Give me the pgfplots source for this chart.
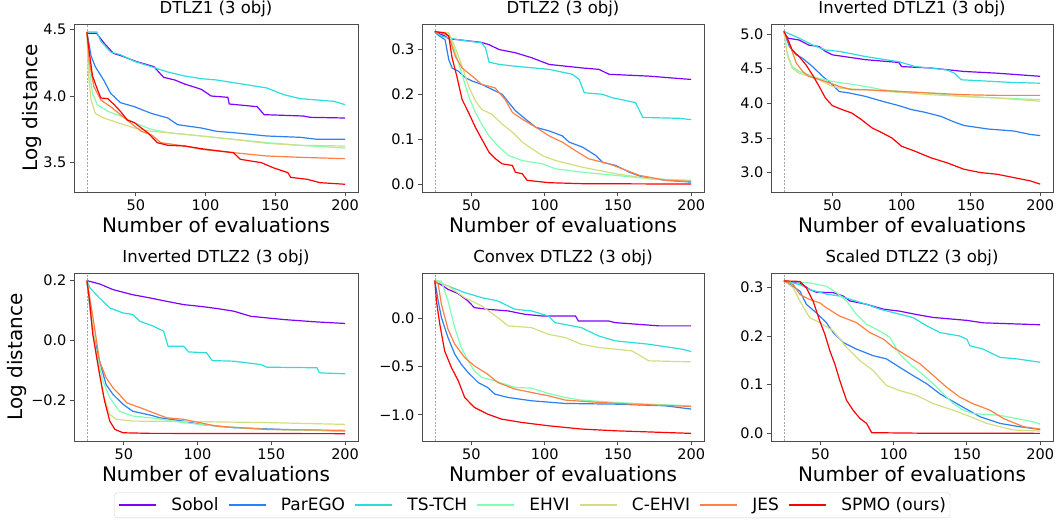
\documentclass[border=0pt]{standalone}
\usepackage{fontspec}
\setmainfont{DejaVu Sans}
\usepackage{pgfplots}
\pgfplotsset{compat=1.18}

% matplotlib "rainbow" colormap, 7 samples
\definecolor{cSobol}{rgb}{0.5,0,1}
\definecolor{cParEGO}{rgb}{0.1667,0.5,0.966}
\definecolor{cTSTCH}{rgb}{0.1667,0.866,0.866}
\definecolor{cEHVI}{rgb}{0.5,1,0.707}
\definecolor{cCEHVI}{rgb}{0.833,0.866,0.5}
\definecolor{cJES}{rgb}{1,0.5,0.2588}
\definecolor{cSPMO}{rgb}{1,0,0}

\tikzset{initline/.style={black!35, dash pattern=on 2pt off 1.5pt, line width=0.6pt}}

\pgfplotsset{
  panel/.style={
    scale only axis, width=282pt, height=168pt, anchor=south west,
    axis line style={black!70, line width=0.9pt},
    tick style={black!70, line width=0.9pt},
    tick align=outside, major tick length=4pt,
    xtick pos=bottom, ytick pos=left,
    xtick={50,100,150,200},
    tick label style={font=\fontsize{14.5}{16}\selectfont},
    /pgf/number format/assume math mode=true,
    title style={font=\fontsize{16.5}{19}\selectfont, at={(axis description cs:0.5,1.027)}, anchor=base},
    xlabel={Number of evaluations},
    xlabel style={font=\fontsize{20}{23}\selectfont, at={(axis description cs:0.5,-0.244)}, anchor=base},
    ylabel style={font=\fontsize{20}{23}\selectfont, at={(axis description cs:-0.148,0.5)}, anchor=center},
    every axis plot/.append style={line width=1.2pt},
  },
}

\begin{document}
\begin{tikzpicture}

% ---------------- DTLZ1 ----------------
\begin{axis}[panel, at={(74pt,331pt)}, width=284pt,
  title={DTLZ1 (3 obj)}, ylabel={Log distance},
  xmin=5.75, xmax=209.25, ymin=3.28, ymax=4.54,
  ytick={3.5,4.0,4.5}, yticklabels={3.5,4.0,4.5}]
\draw[initline] (axis cs:15,3.28) -- (axis cs:15,4.54);
\addplot[cSobol] coordinates {(15,4.47)(22,4.47)(27,4.40)(34,4.32)(40,4.30)(50,4.26)(63,4.22)(70,4.14)(78,4.12)(85,4.09)(97,4.05)(104,4.00)(116,3.99)(117,3.94)(137,3.92)(142,3.86)(170,3.85)(175,3.84)(200,3.835)};
\addplot[cParEGO] coordinates {(15,4.48)(18,4.30)(21,4.22)(27,4.12)(32,4.02)(39,3.95)(49,3.92)(61,3.87)(73,3.835)(80,3.785)(97,3.76)(108,3.735)(120,3.725)(144,3.70)(168,3.69)(180,3.675)(200,3.675)};
\addplot[cTSTCH] coordinates {(15,4.48)(22,4.48)(25,4.41)(32,4.33)(39,4.31)(49,4.26)(61,4.22)(73,4.18)(85,4.15)(97,4.13)(108,4.12)(120,4.10)(144,4.06)(156,4.01)(168,3.98)(192,3.96)(200,3.935)};
\addplot[cEHVI] coordinates {(15,4.48)(16.5,4.22)(19,4.02)(22.5,3.935)(30,3.885)(39,3.85)(49,3.80)(61,3.75)(73,3.725)(97,3.70)(120,3.675)(144,3.65)(168,3.63)(200,3.61)};
\addplot[cCEHVI] coordinates {(15,4.48)(16,4.17)(18,3.97)(21,3.87)(27,3.835)(37,3.80)(49,3.76)(61,3.735)(73,3.725)(97,3.70)(120,3.675)(144,3.645)(168,3.63)(200,3.625)};
\addplot[cJES] coordinates {(15,4.48)(16.5,4.27)(20,4.07)(25,3.97)(32,3.92)(39,3.86)(49,3.775)(54,3.735)(61,3.71)(68,3.65)(85,3.625)(97,3.60)(120,3.575)(144,3.55)(168,3.54)(200,3.53)};
\addplot[cSPMO] coordinates {(15,4.48)(16.5,4.345)(19,4.15)(22.5,4.05)(25,3.985)(30,3.98)(34.5,3.935)(39,3.885)(44,3.82)(49,3.80)(54,3.76)(58.5,3.725)(65.5,3.65)(73,3.63)(85,3.625)(97,3.605)(108,3.59)(120,3.575)(125,3.525)(140,3.50)(149,3.46)(159,3.425)(161,3.39)(173,3.375)(182,3.35)(200,3.338)};
\end{axis}

% ---------------- DTLZ2 ----------------
\begin{axis}[panel, at={(422pt,331pt)},
  title={DTLZ2 (3 obj)},
  xmin=16.25, xmax=208.75, ymin=-0.017, ymax=0.357,
  ytick={0,0.1,0.2,0.3}, yticklabels={0.0,0.1,0.2,0.3}]
\draw[initline] (axis cs:25,-0.017) -- (axis cs:25,0.357);
\addplot[cSobol] coordinates {(25,0.34)(32,0.33)(34.5,0.324)(41,0.322)(57,0.316)(62,0.311)(69,0.30)(80,0.293)(91.5,0.2815)(103,0.267)(126,0.259)(137,0.256)(144,0.245)(171,0.241)(194,0.235)(200,0.2336)};
\addplot[cParEGO] coordinates {(25,0.34)(27,0.333)(32,0.322)(34.5,0.278)(36.8,0.259)(41,0.252)(46,0.237)(50.5,0.230)(57,0.2225)(64,0.2115)(71,0.2005)(75.5,0.182)(80,0.164)(87,0.145)(94,0.127)(103,0.119)(112,0.108)(116.7,0.094)(126,0.0826)(135,0.064)(139.5,0.049)(148.6,0.042)(157.8,0.027)(167,0.016)(183,0.009)(200,0.005)};
\addplot[cTSTCH] coordinates {(25,0.34)(29.5,0.33)(34.5,0.326)(41,0.322)(57,0.315)(59.6,0.304)(62,0.272)(69,0.267)(80,0.263)(103,0.256)(119,0.245)(123.5,0.2336)(127,0.204)(139.5,0.2005)(146,0.193)(162,0.182)(167,0.149)(192,0.147)(200,0.144)};
\addplot[cEHVI] coordinates {(25,0.34)(34.5,0.337)(39,0.293)(43.6,0.245)(48,0.197)(52.7,0.16)(57,0.134)(62,0.108)(69,0.0826)(75.5,0.064)(84.7,0.053)(98.4,0.0457)(107.5,0.0346)(126,0.027)(148.6,0.020)(171.5,0.0125)(200,0.009)};
\addplot[cCEHVI] coordinates {(25,0.34)(34.5,0.337)(39,0.304)(43.6,0.263)(48,0.219)(52.7,0.186)(57,0.167)(64,0.156)(71,0.134)(78,0.116)(84.7,0.094)(91.5,0.079)(98.4,0.064)(107.5,0.053)(126,0.038)(148.6,0.0236)(171.5,0.0125)(200,0.0066)};
\addplot[cJES] coordinates {(25,0.34)(29.5,0.337)(34.5,0.33)(39,0.285)(43.6,0.259)(50.5,0.241)(57,0.2225)(66,0.215)(73,0.189)(78,0.16)(84.7,0.145)(94,0.127)(103,0.108)(112,0.094)(121,0.075)(130,0.057)(144,0.0457)(153,0.0346)(164.6,0.020)(183,0.009)(200,0.0066)};
\addplot[cSPMO] coordinates {(25,0.34)(32,0.337)(34.5,0.33)(36.8,0.2815)(40,0.241)(43.6,0.189)(48,0.16)(52.7,0.127)(57,0.101)(62,0.0715)(66.4,0.057)(71,0.0457)(78,0.042)(80,0.027)(84.7,0.0236)(88,0.009)(103,0.0037)(126,0.0015)(200,0.0007)};
\end{axis}

% ---------------- Inverted DTLZ1 ----------------
\begin{axis}[panel, at={(771pt,331pt)},
  title={Inverted DTLZ1 (3 obj)},
  xmin=5.75, xmax=209.25, ymin=2.72, ymax=5.145,
  ytick={3.0,3.5,4.0,4.5,5.0}, yticklabels={3.0,3.5,4.0,4.5,5.0}]
\draw[initline] (axis cs:15,2.72) -- (axis cs:15,5.145);
\addplot[cSobol] coordinates {(15,5.03)(18,4.94)(26,4.914)(33,4.84)(40.5,4.82)(45,4.75)(50,4.70)(62,4.665)(74,4.63)(86,4.61)(98,4.59)(100,4.53)(121,4.51)(145,4.46)(169,4.435)(193,4.40)(200,4.39)};
\addplot[cParEGO] coordinates {(15,5.04)(19,4.82)(24,4.70)(28.6,4.65)(35.7,4.53)(43,4.39)(50,4.27)(55,4.17)(62,4.15)(74,4.10)(86,4.03)(98,3.967)(107,3.91)(117,3.87)(128.6,3.81)(138,3.73)(145,3.68)(162,3.63)(181,3.60)(193,3.55)(200,3.535)};
\addplot[cTSTCH] coordinates {(15,5.04)(21,4.985)(26,4.94)(36,4.84)(45,4.77)(55,4.75)(74,4.675)(98,4.60)(110,4.53)(121,4.51)(133,4.48)(138,4.435)(143,4.34)(157,4.325)(181,4.30)(200,4.29)};
\addplot[cEHVI] coordinates {(15,5.04)(17.5,4.72)(21,4.53)(26,4.46)(33,4.41)(40.5,4.36)(50,4.316)(74,4.244)(86,4.196)(98,4.172)(121,4.15)(143,4.10)(169,4.077)(200,4.053)};
\addplot[cCEHVI] coordinates {(15,5.04)(17.5,4.70)(21,4.51)(26,4.435)(33,4.39)(40.5,4.34)(50,4.244)(55,4.22)(74,4.196)(98,4.158)(121,4.124)(145,4.10)(169,4.077)(200,4.03)};
\addplot[cJES] coordinates {(15,5.04)(19,4.866)(24,4.58)(28.6,4.46)(33,4.39)(38,4.36)(45,4.316)(55,4.244)(64,4.196)(74,4.196)(98,4.172)(121,4.148)(145,4.124)(169,4.115)(200,4.115)};
\addplot[cSPMO] coordinates {(15,5.04)(17.5,4.94)(21,4.77)(26,4.675)(31,4.555)(35.7,4.41)(40.5,4.244)(45,4.077)(50,3.967)(57,3.91)(64,3.86)(71,3.765)(78.6,3.646)(86,3.574)(93,3.50)(100,3.38)(109.5,3.31)(121,3.215)(133,3.14)(145,3.048)(157,3.0)(169,2.976)(181,2.928)(193,2.88)(200,2.833)};
\end{axis}

% ---------------- Inverted DTLZ2 ----------------
\begin{axis}[panel, at={(74pt,82pt)}, width=284pt,
  title={Inverted DTLZ2 (3 obj)}, ylabel={Log distance},
  ylabel style={at={(axis description cs:-0.199,0.5)}},
  xmin=16.25, xmax=208.75, ymin=-0.3355, ymax=0.2255,
  ytick={-0.2,0,0.2}, yticklabels={−0.2,0.0,0.2}]
\draw[initline] (axis cs:25,-0.3355) -- (axis cs:25,0.2255);
\addplot[cSobol] coordinates {(25,0.2)(33.6,0.189)(42.7,0.17)(56,0.153)(68,0.142)(79,0.131)(90.5,0.12)(102,0.114)(113,0.107)(124.5,0.098)(136,0.081)(158.6,0.07)(181,0.062)(200,0.057)};
\addplot[cParEGO] coordinates {(25,0.2)(26.8,0.12)(29,0.031)(33.6,-0.069)(38,-0.147)(42.7,-0.18)(49.5,-0.213)(56,-0.236)(68,-0.249)(74.5,-0.258)(90.5,-0.269)(102,-0.28)(124.5,-0.291)(158.6,-0.297)(200,-0.302)};
\addplot[cTSTCH] coordinates {(25,0.2)(27,0.176)(33.6,0.142)(40.5,0.109)(49.5,0.092)(56,0.087)(61,0.064)(70,0.048)(77,0.031)(80,-0.019)(90.5,-0.019)(94,-0.038)(106,-0.041)(110,-0.067)(124.5,-0.069)(142.7,-0.08)(147,-0.089)(181,-0.091)(182.5,-0.108)(200,-0.111)};
\addplot[cEHVI] coordinates {(25,0.2)(27.9,0.0756)(31.3,-0.036)(35.9,-0.136)(40.5,-0.191)(47,-0.236)(56,-0.252)(68,-0.258)(90.5,-0.274)(113,-0.286)(147,-0.297)(200,-0.302)};
\addplot[cCEHVI] coordinates {(25,0.2)(27.9,0.087)(31.3,-0.047)(35.9,-0.18)(40.5,-0.247)(45,-0.263)(56,-0.269)(102,-0.271)(147,-0.274)(200,-0.28)};
\addplot[cJES] coordinates {(25,0.2)(27.3,0.131)(30.2,0.042)(33.6,-0.069)(38,-0.124)(42.7,-0.158)(47,-0.18)(52,-0.208)(61,-0.224)(70,-0.241)(79,-0.258)(90.5,-0.263)(113,-0.286)(147,-0.297)(200,-0.30)};
\addplot[cSPMO] coordinates {(25,0.2)(26.8,0.131)(29,0.02)(33.6,-0.113)(37,-0.202)(40.5,-0.269)(44,-0.297)(49.5,-0.308)(68,-0.31)(200,-0.311)};
\end{axis}

% ---------------- Convex DTLZ2 ----------------
\begin{axis}[panel, at={(422pt,82pt)},
  title={Convex DTLZ2 (3 obj)},
  xmin=16.25, xmax=208.75, ymin=-1.272, ymax=0.469,
  ytick={-1,-0.5,0}, yticklabels={−1.0,−0.5,0.0},
  legend columns=7, legend cell align=left,
  legend style={at={(axis description cs:0.391,-0.3054)}, anchor=north,
    font=\fontsize{17}{20}\selectfont, draw=black!18, rounded corners=3pt,
    inner sep=4pt, nodes={inner xsep=0pt, inner ysep=1.5pt},
    /tikz/every odd column/.append style={column sep=14.5pt},
    /tikz/every even column/.append style={column sep=9.3pt}},
  legend image code/.code={\draw[mark repeat=2, mark phase=2, #1, line width=1.5pt]
    plot coordinates {(0pt,0pt) (18.5pt,0pt) (37pt,0pt)};}]
\draw[initline] (axis cs:25,-1.272) -- (axis cs:25,0.469);
\addplot[cSobol] coordinates {(25,0.39)(34,0.30)(41,0.255)(47.7,0.179)(52,0.11)(61,0.093)(75,0.076)(86.5,0.041)(98,0.024)(121,0.024)(123,-0.028)(143.6,-0.028)(148,-0.045)(178,-0.079)(200,-0.079)};
\addlegendentry{Sobol}
\addplot[cParEGO] coordinates {(25,0.39)(27.3,0.179)(29.5,0.007)(34,-0.2)(38.6,-0.372)(43,-0.476)(47.7,-0.562)(54.6,-0.666)(61,-0.717)(66,-0.786)(75,-0.821)(91,-0.855)(114,-0.883)(148,-0.89)(182,-0.907)(200,-0.941)};
\addlegendentry{ParEGO}
\addplot[cTSTCH] coordinates {(25,0.39)(34,0.334)(45.4,0.266)(57,0.214)(68,0.179)(79.7,0.093)(91,0.076)(102.5,0.024)(107,-0.045)(125,-0.097)(136.8,-0.183)(148,-0.234)(171,-0.269)(194,-0.321)(200,-0.345)};
\addlegendentry{TS-TCH}
\addplot[cEHVI] coordinates {(25,0.39)(29.5,0.386)(34,0.179)(38.6,-0.097)(43,-0.303)(47.7,-0.441)(52,-0.545)(57,-0.614)(66,-0.648)(79.7,-0.717)(91,-0.724)(102.5,-0.779)(114,-0.821)(125,-0.848)(148,-0.872)(171,-0.89)(200,-0.907)};
\addlegendentry{EHVI}
\addplot[cCEHVI] coordinates {(25,0.39)(34,0.334)(45.4,0.214)(57,0.128)(68,0.007)(75,-0.079)(91,-0.097)(102.5,-0.166)(114,-0.2)(125,-0.269)(136.8,-0.303)(159.6,-0.338)(171,-0.441)(200,-0.452)};
\addlegendentry{C-EHVI}
\addplot[cJES] coordinates {(25,0.39)(27.3,0.352)(29.5,0.145)(34,-0.114)(38.6,-0.269)(45.4,-0.407)(52,-0.493)(61,-0.579)(68,-0.666)(79.7,-0.734)(91,-0.769)(102.5,-0.803)(114,-0.848)(136.8,-0.872)(159.6,-0.89)(200,-0.914)};
\addlegendentry{JES}
\addplot[cSPMO] coordinates {(25,0.39)(26.1,0.179)(28.4,-0.062)(31.7,-0.338)(36.3,-0.51)(41,-0.648)(45.4,-0.821)(52,-0.924)(61,-0.993)(70.5,-1.045)(84,-1.079)(102.5,-1.114)(125,-1.148)(148,-1.166)(200,-1.193)};
\addlegendentry{SPMO (ours)}
\end{axis}

% ---------------- Scaled DTLZ2 ----------------
\begin{axis}[panel, at={(771pt,82pt)},
  title={Scaled DTLZ2 (3 obj)},
  xmin=16.25, xmax=208.75, ymin=-0.0157, ymax=0.3293,
  ytick={0,0.1,0.2,0.3}, yticklabels={0.0,0.1,0.2,0.3}]
\draw[initline] (axis cs:25,-0.0157) -- (axis cs:25,0.3293);
\addplot[cSobol] coordinates {(25,0.313)(36,0.309)(43,0.295)(47,0.29)(58.7,0.289)(65.5,0.282)(70,0.272)(81.5,0.265)(93,0.255)(104,0.251)(115.6,0.244)(127,0.238)(150,0.232)(161,0.227)(200,0.223)};
\addplot[cParEGO] coordinates {(25,0.313)(27.5,0.309)(36,0.292)(40.4,0.265)(47,0.248)(54,0.2275)(58.7,0.207)(65.5,0.1867)(74.6,0.173)(86,0.1595)(95,0.153)(104,0.1358)(113,0.119)(122.5,0.102)(131.6,0.081)(145,0.0577)(159,0.034)(172.6,0.0204)(186,0.0136)(200,0.008)};
\addplot[cTSTCH] coordinates {(25,0.313)(36,0.3055)(43,0.295)(54,0.286)(63,0.282)(81.5,0.265)(90.6,0.255)(99.7,0.248)(113,0.238)(122.5,0.221)(131.6,0.207)(145,0.20)(150,0.193)(152,0.18)(161,0.173)(172.6,0.156)(184,0.153)(200,0.146)};
\addplot[cEHVI] coordinates {(25,0.313)(42.7,0.309)(54,0.302)(61,0.289)(67.8,0.272)(74.6,0.244)(81.5,0.224)(90.6,0.21)(97.4,0.197)(104,0.163)(111,0.1426)(118,0.1256)(127,0.102)(134,0.081)(140.7,0.061)(147.6,0.0475)(154,0.0407)(172.6,0.037)(195,0.0238)(200,0.019)};
\addplot[cCEHVI] coordinates {(25,0.313)(31.5,0.2987)(36,0.2716)(42.7,0.2376)(49.5,0.2275)(58.7,0.2105)(67.8,0.1765)(77,0.149)(86,0.129)(95,0.0984)(104,0.088)(115.6,0.078)(127,0.061)(140.7,0.0475)(150,0.037)(163.5,0.0204)(181.8,0.0068)(200,0.0048)};
\addplot[cJES] coordinates {(25,0.313)(31.5,0.3055)(36,0.285)(42.7,0.275)(49.5,0.268)(54,0.258)(63,0.241)(74.6,0.2275)(83.7,0.207)(93,0.1935)(99.7,0.1765)(109,0.1595)(118,0.1426)(127,0.119)(136,0.095)(145,0.0747)(154,0.061)(165.8,0.0475)(175,0.0305)(188.6,0.0136)(200,0.0088)};
\addplot[cSPMO] coordinates {(25,0.313)(36,0.312)(40.4,0.2987)(45,0.2716)(49.5,0.2308)(53,0.2037)(56.4,0.1697)(59.8,0.1426)(63.2,0.1086)(67.8,0.0679)(72.3,0.0475)(77,0.0305)(81.5,0.0204)(85,0.0014)(120,0.0003)(200,0.0)};
\end{axis}

\pgfresetboundingbox
\path[use as bounding box] (0pt,0pt) rectangle (1060pt,523pt);
\end{tikzpicture}
\end{document}
